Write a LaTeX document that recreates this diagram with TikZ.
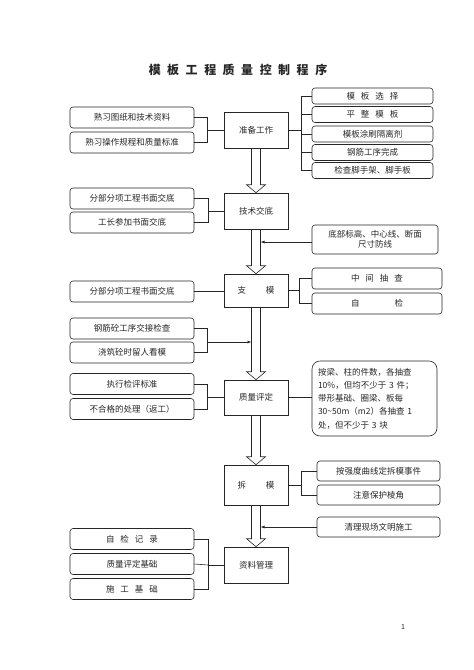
\documentclass[tikz,border=0pt]{standalone}
\usepackage{fontspec}
\setmainfont{Noto Sans CJK SC}
\usetikzlibrary{arrows.meta}
\newcommand\gap[1][6pt]{\hspace{#1}}

\begin{document}
\begin{tikzpicture}
	[x=1pt,y=-1pt,line width=0.6pt,color=black!85,
	every node/.style={font=\fontsize{8.5}{10}\selectfont,inner sep=1pt},
	mainbox/.style={draw,minimum width=64pt,minimum height=35pt},
	leftbox/.style={draw,rounded corners=3pt,minimum width=124pt,minimum height=21pt},
	rightbox/.style={draw,rounded corners=3pt,minimum width=121pt,minimum height=16pt},
	notebox/.style={draw,rounded corners=8pt,align=left,text width=113pt,
		font=\fontsize{8.5}{13.3}\selectfont},
	link/.style={-{Latex[length=4pt,width=3pt]}}]
	\useasboundingbox (0,0) rectangle (474,670);
	\node (title) at (238,70) {\fontsize{12}{14}\selectfont\bfseries
		模\gap[6.5pt]板\gap[6.5pt]工\gap[6.5pt]程\gap[6.5pt]质\gap[6.5pt]量\gap[6.5pt]控\gap[6.5pt]制\gap[6.5pt]程\gap[6.5pt]序};
	% main column
	\node[mainbox,minimum height=36pt] (prep) at (256,130) {准备工作};
	\node[mainbox,minimum height=36pt] (tech) at (256,211) {技术交底};
	\node[mainbox,minimum height=33pt] (form) at (256,290.5) {支\gap[20pt]模};
	\node[mainbox] (qual) at (256,397.5) {质量评定};
	\node[mainbox,minimum height=40pt] (strip) at (256,485) {拆\gap[20pt]模};
	\node[mainbox,minimum height=36pt] (docs) at (256,565) {资料管理};
	% left column
	\node[leftbox] (l1) at (132,117.5) {熟习图纸和技术资料};
	\node[leftbox] (l2) at (132,142.5) {熟习操作规程和质量标准};
	\node[leftbox] (l3) at (132,198.5) {分部分项工程书面交底};
	\node[leftbox] (l4) at (132,222.5) {工长参加书面交底};
	\node[leftbox] (l5) at (132,291.5) {分部分项工程书面交底};
	\node[leftbox] (l6) at (132,328.5) {钢筋砼工序交接检查};
	\node[leftbox] (l7) at (132,352.5) {浇筑砼时留人看模};
	\node[leftbox] (l8) at (132,384) {执行检评标准};
	\node[leftbox] (l9) at (132,409) {不合格的处理（返工）};
	\node[leftbox] (l10) at (132,539) {自\gap 检\gap 记\gap 录};
	\node[leftbox] (l11) at (132,564) {质量评定基础};
	\node[leftbox] (l12) at (132,589) {施\gap 工\gap 基\gap 础};
	% right column
	\node[rightbox] (r1) at (372.5,96) {模\gap 板\gap 选\gap 择};
	\node[rightbox] (r2) at (372.5,114.5) {平\gap 整\gap 模\gap 板};
	\node[rightbox] (r3) at (372.5,134) {模板涂刷隔离剂};
	\node[rightbox] (r4) at (372.5,152.5) {钢筋工序完成};
	\node[rightbox] (r5) at (372.5,170.5) {检查脚手架、脚手板};
	\node[rightbox,minimum width=126pt,minimum height=29pt,align=center] (n1) at (375,239.5)
		{底部标高、中心线、断面\\尺寸防线};
	\node[rightbox,minimum width=130pt,minimum height=21pt] (r6) at (377,278.5) {中\gap 间\gap 抽\gap 查};
	\node[rightbox,minimum width=130pt,minimum height=21pt] (r7) at (377,303.5) {自\gap[35pt]检};
	\node[notebox,minimum width=125pt,minimum height=75pt] (n2) at (374.5,398.5)
		{按梁、柱的件数，各抽查\\10\%，但均不少于 3 件；\\带形基础、圈梁、板每\\30\textasciitilde 50m（m2）各抽查 1\\处，但不少于 3 块};
	\node[rightbox,minimum width=123pt,minimum height=20pt] (r8) at (378.5,471) {按强度曲线定拆模事件};
	\node[rightbox,minimum width=123pt,minimum height=20pt] (r9) at (378.5,495) {注意保护棱角};
	\node[rightbox,minimum width=123pt,minimum height=20pt] (r10) at (378.5,527) {清理现场文明施工};
	\node (page) at (403,627) {\fontsize{7}{8}\selectfont 1};
	% hollow arrows between main boxes
	\foreach \a/\b in {prep/tech,tech/form,form/qual,qual/strip,strip/docs}
		\draw ([xshift=-4.5pt]\a.south) -- ([xshift=-4.5pt,yshift=8pt]\b.north)
			-- ([xshift=-9.5pt,yshift=8pt]\b.north) -- (\b.north)
			-- ([xshift=9.5pt,yshift=8pt]\b.north) -- ([xshift=4.5pt,yshift=8pt]\b.north)
			-- ([xshift=4.5pt]\a.south);
	% left brackets
	\coordinate (b1) at (207,130);
	\coordinate (b2) at (208,211);
	\coordinate (b4) at (207,342);
	\coordinate (b5) at (207,397.5);
	\coordinate (b6) at (208,565);
	\coordinate (s4) at (251.5,342);
	\draw (l1.east) -| (b1) -- (prep.west);
	\draw (l2.east) -| (b1);
	\draw (l3.east) -| (b2) -- (tech.west);
	\draw (l4.east) -| (b2);
	\draw (l5.east) -- (l5.east -| form.west);
	\draw (l6.east) -| (b4);
	\draw (l7.east) -| (b4);
	\draw[link] (b4) -- (s4);
	\draw (l8.east) -| (b5) -- (qual.west);
	\draw (l9.east) -| (b5);
	\draw (l10.east) -| (b6) -- (docs.west);
	\draw (l11.east) -- (b6);
	\draw (l12.east) -| (b6);
	% right brackets
	\coordinate (c1) at (301,130);
	\coordinate (c2) at (299,290.5);
	\coordinate (c3) at (301,485);
	\coordinate (t1) at (260.5,242);
	\coordinate (t2) at (260.5,527);
	\draw (prep.east) -- (c1);
	\foreach \r in {r1,r2,r3,r4,r5}
		\draw (c1) |- (\r.west);
	\draw (form.east) -- (c2);
	\draw (c2) |- (r6.west);
	\draw (c2) |- (r7.west);
	\draw (qual.east) -- (qual.east -| n2.west);
	\draw (strip.east) -- (c3);
	\draw (c3) |- (r8.west);
	\draw (c3) |- (r9.west);
	\draw[link] (t1 -| n1.west) -- (t1);
	\draw[link] (r10.west) -- (t2);
\end{tikzpicture}
\end{document}
